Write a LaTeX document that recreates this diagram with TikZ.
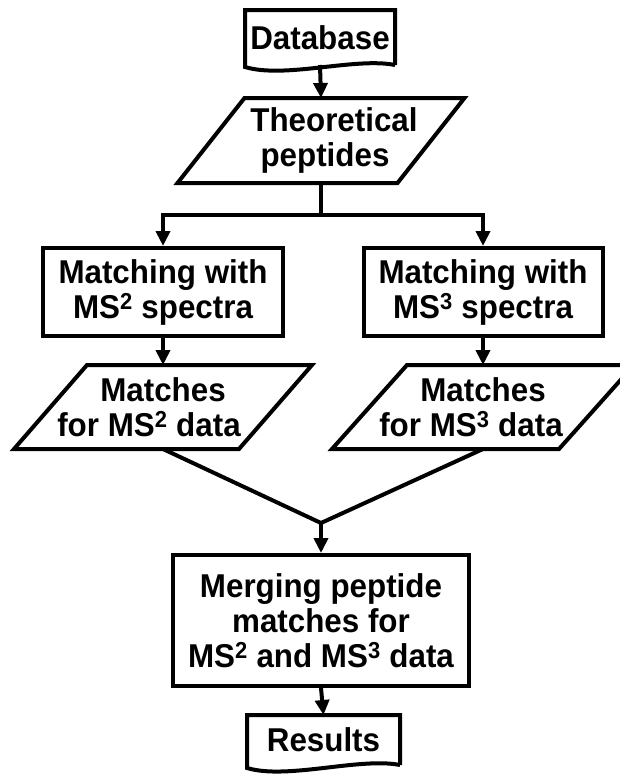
\documentclass[tikz,border=0pt]{standalone}
\usepackage{fontspec}
\setmainfont[FakeStretch=0.95]{Liberation Sans}
\usetikzlibrary{arrows.meta}
\begin{document}
\begin{tikzpicture}[x=1pt,y=-1pt,line width=4pt,
  txt/.style={font=\bfseries\fontsize{33}{35}\selectfont,align=center,inner sep=0pt},
  holder/.style={txt,draw=none,outer sep=0pt},
  boxnode/.style={txt,draw,line join=miter},
  shapeline/.style={line join=miter},
  arr/.style={-{Triangle[width=14pt,length=15pt]}},
  link/.style={line join=miter}]
\useasboundingbox (0,0) rectangle (620,777);

% Database (document shape)
\node[holder,minimum width=150pt,minimum height=55pt] (db) at (320,37.5) {Database};
\draw[shapeline] (db.south east) -- (db.north east) -- (db.north west) -- ([yshift=-2pt]db.south west)
  .. controls +(40,12) and +(-40,-8) .. (db.south east);

% Theoretical peptides (parallelogram)
\node[holder,minimum width=287pt,minimum height=85pt] (theo) at (321,140.5)
  {\hspace*{26pt}Theoretical\\\hspace*{8pt}peptides};
\draw[shapeline] (theo.south west) -- ([xshift=67pt]theo.north west) -- (theo.north east)
  -- ([xshift=-67pt]theo.south east) -- cycle;

\draw[arr] (db.south) -- (theo.north);

% Matching boxes
\node[boxnode,minimum width=240pt,minimum height=88pt] (m2) at (163,292)
  {Matching with\\MS\textsuperscript{2} spectra};
\node[boxnode,minimum width=239pt,minimum height=88pt] (m3) at (483,292)
  {Matching with\\MS\textsuperscript{3} spectra};

\coordinate (sp) at (321,215);
\draw (theo.south) -- (sp);
\draw[arr,link] (sp) -| (m2.north);
\draw[arr,link] (sp) -| (m3.north);

% Matches parallelograms
\node[holder,minimum width=298pt,minimum height=84pt] (p2) at (163,407)
  {Matches\\for MS\textsuperscript{2} data\hspace*{28pt}};
\draw[shapeline] (p2.south west) -- ([xshift=73pt]p2.north west) -- (p2.north east)
  -- ([xshift=-73pt]p2.south east) -- cycle;
\node[holder,minimum width=302pt,minimum height=84pt] (p3) at (483,407)
  {Matches\\for MS\textsuperscript{3} data\hspace*{24pt}};
\draw[shapeline] (p3.south west) -- ([xshift=75pt]p3.north west) -- (p3.north east)
  -- ([xshift=-75pt]p3.south east) -- cycle;

\draw[arr] (m2.south) -- (p2.north);
\draw[arr] (m3.south) -- (p3.north);

% Merging
\node[boxnode,minimum width=296pt,minimum height=131pt] (me) at (321,620.5)
  {Merging peptide\\matches for\\MS\textsuperscript{2} and MS\textsuperscript{3} data};

\coordinate (cv) at (321,523);
\draw[link] (p2.south) -- (cv) -- (p3.south);
\draw[arr] (cv) -- (me.north);

% Results (document shape)
\node[holder,minimum width=153pt,minimum height=50pt] (res) at (323.5,740) {Results};
\draw[shapeline] (res.south east) -- (res.north east) -- (res.north west) -- ([yshift=-3pt]res.south west)
  .. controls +(40,12) and +(-40,-8) .. (res.south east);

\draw[arr] (me.south) -- (res.north);
\end{tikzpicture}
\end{document}
